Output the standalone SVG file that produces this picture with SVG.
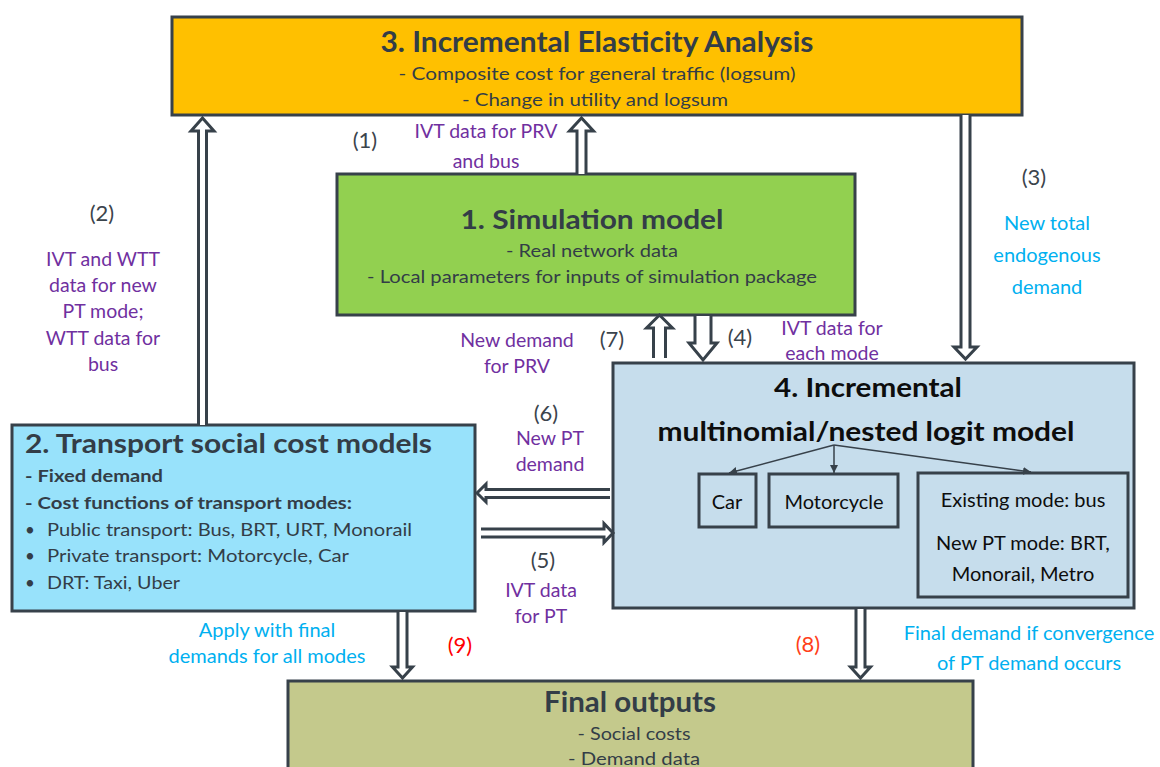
<svg xmlns="http://www.w3.org/2000/svg" width="1160" height="767" viewBox="0 0 1160 767">
  <style>
    text { font-family: Lato, "Open Sans", "Liberation Sans", sans-serif; }
    .box { stroke: #37414A; stroke-width: 3; }
    .sub { stroke: #37414A; stroke-width: 3; fill: none; }
    .title { font-weight: bold; fill: #333D47; }
    .body { font-size: 17px; fill: #333D47; }
    .mode { font-size: 20px; fill: #0D0D0D; text-anchor: middle; }
    .num { font-size: 22px; fill: #3B444C; text-anchor: middle; }
    .purple { font-size: 19.5px; fill: #7030A0; text-anchor: middle; }
    .cyan { font-size: 20px; fill: #00B0F0; text-anchor: middle; }
    .mid { text-anchor: middle; }
    .arrow { fill: #FFFFFF; stroke: #37414A; stroke-width: 3; stroke-linejoin: miter; }
    .thin { stroke: #37414A; stroke-width: 1.5; fill: none; }
  </style>
  <defs>
    <marker id="tip" viewBox="0 0 10 10" refX="10" refY="5" markerWidth="8" markerHeight="8" markerUnits="userSpaceOnUse" orient="auto">
      <path d="M0,0 L10,5 L0,10 z" fill="#37414A"/>
    </marker>
  </defs>

  <rect width="1160" height="767" fill="#FFFFFF"/>

  <!-- 3. Incremental Elasticity Analysis -->
  <g id="node-elasticity">
    <rect class="box" x="172" y="17" width="850" height="98" fill="#FFC000"/>
    <text class="title mid" x="597" y="52" font-size="28" textLength="433" lengthAdjust="spacingAndGlyphs">3. Incremental Elasticity Analysis</text>
    <text class="body mid" x="597" y="80" textLength="397" lengthAdjust="spacingAndGlyphs">- Composite cost for general traffic (logsum)</text>
    <text class="body mid" x="595" y="106" textLength="266" lengthAdjust="spacingAndGlyphs">- Change in utility and logsum</text>
  </g>

  <!-- 1. Simulation model -->
  <g id="node-simulation">
    <rect class="box" x="337" y="174" width="518" height="141" fill="#92D050"/>
    <text class="title mid" x="592" y="229" font-size="27" textLength="263" lengthAdjust="spacingAndGlyphs">1. Simulation model</text>
    <text class="body mid" x="592" y="257" textLength="172" lengthAdjust="spacingAndGlyphs">- Real network data</text>
    <text class="body mid" x="592" y="283" textLength="450" lengthAdjust="spacingAndGlyphs">- Local parameters for inputs of simulation package</text>
  </g>

  <!-- 2. Transport social cost models -->
  <g id="node-social-cost">
    <rect class="box" x="12" y="425" width="463" height="186" fill="#98E2FB"/>
    <text class="title" x="25" y="453" font-size="27" textLength="407" lengthAdjust="spacingAndGlyphs">2. Transport social cost models</text>
    <text class="body" x="25" y="482" font-weight="bold" textLength="138" lengthAdjust="spacingAndGlyphs">- Fixed demand</text>
    <text class="body" x="25" y="509" font-weight="bold" textLength="327" lengthAdjust="spacingAndGlyphs">- Cost functions of transport modes:</text>
    <text class="body" x="25" y="536">•</text>
    <text class="body" x="47" y="536" textLength="365" lengthAdjust="spacingAndGlyphs">Public transport: Bus, BRT, URT, Monorail</text>
    <text class="body" x="25" y="562">•</text>
    <text class="body" x="47" y="562" textLength="302" lengthAdjust="spacingAndGlyphs">Private transport: Motorcycle, Car</text>
    <text class="body" x="25" y="589">•</text>
    <text class="body" x="47" y="589" textLength="133" lengthAdjust="spacingAndGlyphs">DRT: Taxi, Uber</text>
  </g>

  <!-- 4. Incremental multinomial/nested logit model -->
  <g id="node-logit">
    <rect class="box" x="613" y="363" width="521" height="245" fill="#C6DDEC"/>
    <text class="mid" x="868" y="397" font-size="27" font-weight="bold" fill="#0D0D0D" textLength="188" lengthAdjust="spacingAndGlyphs">4. Incremental</text>
    <text class="mid" x="866" y="441" font-size="27" font-weight="bold" fill="#0D0D0D" textLength="417" lengthAdjust="spacingAndGlyphs">multinomial/nested logit model</text>
    <g id="mode-car">
      <rect class="sub" x="699" y="474" width="57" height="53"/>
      <text class="mode" x="727" y="509">Car</text>
    </g>
    <g id="mode-motorcycle">
      <rect class="sub" x="769" y="474" width="129" height="53"/>
      <text class="mode" x="834" y="509">Motorcycle</text>
    </g>
    <g id="mode-pt">
      <rect class="sub" x="918" y="473" width="210" height="124"/>
      <text class="mode" x="1023" y="507">Existing mode: bus</text>
      <text class="mode" x="1023" y="550">New PT mode: BRT,</text>
      <text class="mode" x="1023" y="581">Monorail, Metro</text>
    </g>
  </g>

  <!-- Final outputs -->
  <g id="node-final">
    <rect class="box" x="288" y="681" width="685" height="100" fill="#C4C98C"/>
    <text class="title mid" x="630" y="712" font-size="28" textLength="172" lengthAdjust="spacingAndGlyphs">Final outputs</text>
    <text class="body mid" x="634" y="740" textLength="113" lengthAdjust="spacingAndGlyphs">- Social costs</text>
    <text class="body mid" x="634" y="765" textLength="132" lengthAdjust="spacingAndGlyphs">- Demand data</text>
  </g>

  <!-- Connectors -->
  <g id="connectors">
    <!-- (2) social cost -> elasticity -->
    <path class="arrow" d="M198.5,425 V131 H191 L202.5,118 L214,131 H206.5 V425"/>
    <!-- (1) simulation -> elasticity -->
    <path class="arrow" d="M577,174 V131 H569.5 L581.5,118 L593.5,131 H586 V174"/>
    <!-- (3) elasticity -> logit -->
    <path class="arrow" d="M961,115 V347 H954 L965.5,359 L977,347 H970 V115"/>
    <!-- (7) logit -> simulation -->
    <path class="arrow" d="M653.5,358 V328 H646.5 L659.5,315 L672.5,328 H665.5 V358"/>
    <!-- (4) simulation -> logit -->
    <path class="arrow" d="M695,316 V343 H689 L703,360 L717,343 H711 V316"/>
    <!-- (6) logit -> social cost -->
    <path class="arrow" d="M610,489.5 H486 V484 L477,493 L486,502 V497.5 H610"/>
    <!-- (5) social cost -> logit -->
    <path class="arrow" d="M481,529 H604 V523.5 L613,533 L604,542.5 V537 H481"/>
    <!-- (9) social cost -> final -->
    <path class="arrow" d="M398,612 V667 H392.5 L402.5,678 L412.5,667 H407 V612"/>
    <!-- (8) logit -> final -->
    <path class="arrow" d="M856,609 V667 H850.5 L860.5,678 L870.5,667 H865 V609"/>
    <!-- mode split inside the logit model -->
    <line class="thin" x1="834" y1="445" x2="729" y2="473" marker-end="url(#tip)"/>
    <line class="thin" x1="834" y1="445" x2="834" y2="473" marker-end="url(#tip)"/>
    <line class="thin" x1="834" y1="445" x2="1031" y2="472" marker-end="url(#tip)"/>
  </g>

  <!-- Connector labels -->
  <g id="labels">
    <text class="num" x="365" y="148">(1)</text>
    <text class="purple" x="486" y="138">IVT data for PRV</text>
    <text class="purple" x="486" y="168">and bus</text>

    <text class="num" x="102" y="221">(2)</text>
    <text class="purple" x="103" y="266">IVT and WTT</text>
    <text class="purple" x="103" y="292">data for new</text>
    <text class="purple" x="103" y="318">PT mode;</text>
    <text class="purple" x="103" y="345">WTT data for</text>
    <text class="purple" x="103" y="371">bus</text>

    <text class="num" x="1034" y="185">(3)</text>
    <text class="cyan" x="1047" y="230">New total</text>
    <text class="cyan" x="1047" y="262">endogenous</text>
    <text class="cyan" x="1047" y="294">demand</text>

    <text class="purple" x="517" y="347">New demand</text>
    <text class="purple" x="517" y="373">for PRV</text>
    <text class="num" x="612" y="347">(7)</text>
    <text class="num" x="740" y="345">(4)</text>
    <text class="purple" x="832" y="335">IVT data for</text>
    <text class="purple" x="832" y="360">each mode</text>

    <text class="num" x="546" y="421">(6)</text>
    <text class="purple" x="550" y="445">New PT</text>
    <text class="purple" x="550" y="471">demand</text>

    <text class="num" x="543" y="568">(5)</text>
    <text class="purple" x="541" y="597">IVT data</text>
    <text class="purple" x="541" y="623">for PT</text>

    <text class="cyan" x="267" y="637">Apply with final</text>
    <text class="cyan" x="267" y="663">demands for all modes</text>
    <text class="num" x="460" y="653" style="fill:#FF0000">(9)</text>
    <text class="num" x="808" y="652" style="fill:#FF3F1A">(8)</text>
    <text class="cyan" x="1029" y="640">Final demand if convergence</text>
    <text class="cyan" x="1029" y="670">of PT demand occurs</text>
  </g>
</svg>
